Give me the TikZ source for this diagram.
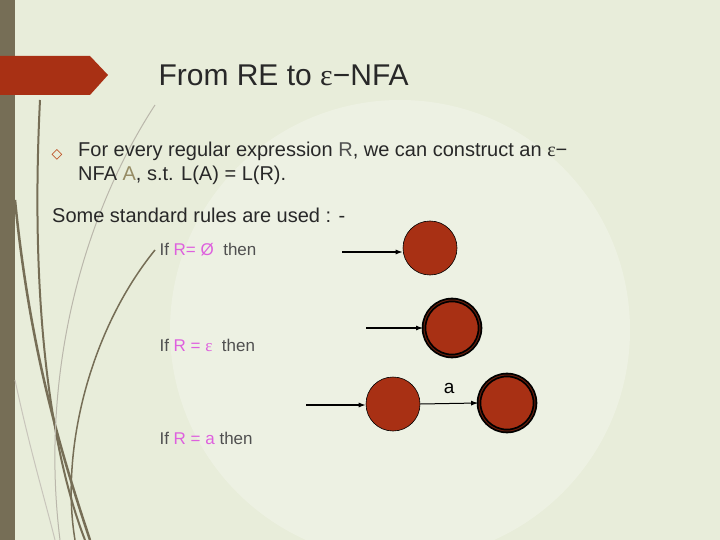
\documentclass[tikz,border=0pt]{standalone}
\usepackage{fontspec}
\usetikzlibrary{arrows.meta}
\setmainfont{Liberation Sans}
\newfontfamily\serifeps{Liberation Serif}
\newfontfamily\djv{DejaVu Sans}
\definecolor{bg}{RGB}{232,237,218}
\definecolor{bar}{RGB}{118,110,86}
\definecolor{rust}{RGB}{168,48,20}
\definecolor{pinkR}{RGB}{222,96,222}
\definecolor{olive}{RGB}{150,140,100}
\definecolor{txt}{RGB}{40,40,40}
\definecolor{grayt}{RGB}{80,80,80}
\begin{document}
\begin{tikzpicture}[x=1pt,y=-1pt,
  st/.style={circle,fill=rust,draw=black,line width=0.6pt,minimum size=54pt,inner sep=0},
  acc/.style={circle,fill=rust,draw=black,line width=1.8pt,double=rust!60!black,double distance=1pt,minimum size=56pt,inner sep=0},
  arr/.style={-{Latex[length=7pt,width=5pt]},line width=1.2pt},
  rule/.style={anchor=west,text=grayt,font=\fontsize{17}{20}\selectfont}]
\useasboundingbox (0,0) rectangle (720,540);
\fill[bg] (0,0) rectangle (720,540);
\fill[white,opacity=0.25] (400,330) circle (230);
\fill[bar] (0,0) rectangle (15,540);
\fill[rust] (0,56) -- (90,56) -- (108,75) -- (90,95) -- (0,95) -- cycle;
% swooshes
\draw[bar,line width=2pt] (40,100) .. controls (30,300) and (50,450) .. (85,540);
\draw[bar,line width=1.5pt] (155,250) .. controls (90,330) and (60,450) .. (75,540);
\draw[bar,line width=2.5pt] (15,200) .. controls (30,350) and (60,450) .. (90,540);
\draw[bar!50,line width=1pt] (155,105) .. controls (80,220) and (40,380) .. (60,540);
\draw[bar!40,line width=1pt] (15,380) .. controls (30,450) and (45,500) .. (55,540);
\node[anchor=west,text=txt,font=\fontsize{30}{34}\selectfont] (title) at (155,75) {From RE to {\serifeps ε}−NFA};
\node[anchor=west,text=rust!80!orange,font=\djv\fontsize{14}{16}\selectfont] (bul) at (48,155) {◇};
\node[anchor=north west,text=txt,font=\fontsize{20}{24}\selectfont,align=left,inner sep=0] (p1) at (78,142)
  {For every regular expression {\color{grayt}R}, we can construct an {\serifeps ε}−\\NFA {\color{olive}A}, s.t. L(A) = L(R).};
\node[anchor=west,text=txt,font=\fontsize{20}{24}\selectfont,inner sep=0] (p2) at (52,215) {Some standard rules are used : -};
\node[rule] (r1) at (156,250) {If {\color{pinkR}R= Ø}\ \ then};
\node[rule] (r2) at (156,345) {If {\color{pinkR}R = {\serifeps ε}}\ \ then};
\node[rule] (r3) at (156,438) {If {\color{pinkR}R = a} then};
\node[st] (q1) at (430,248) {};
\coordinate (s1) at (342,252);
\draw[arr] (s1) -- (q1.west|-s1);
\node[acc] (q2) at (452,328) {};
\coordinate (s2) at (366,328);
\draw[arr] (s2) -- (q2.west);
\node[st] (q3) at (393,404) {};
\coordinate (s3) at (306,405);
\draw[arr] (s3) -- (q3.west|-s3);
\node[acc] (q4) at (507,403) {};
\draw[arr,line width=1pt] (q3.east) -- node[above=6pt,font=\fontsize{19}{22}\selectfont,text=black] (la) {a} (q4.west);
\end{tikzpicture}
\end{document}
